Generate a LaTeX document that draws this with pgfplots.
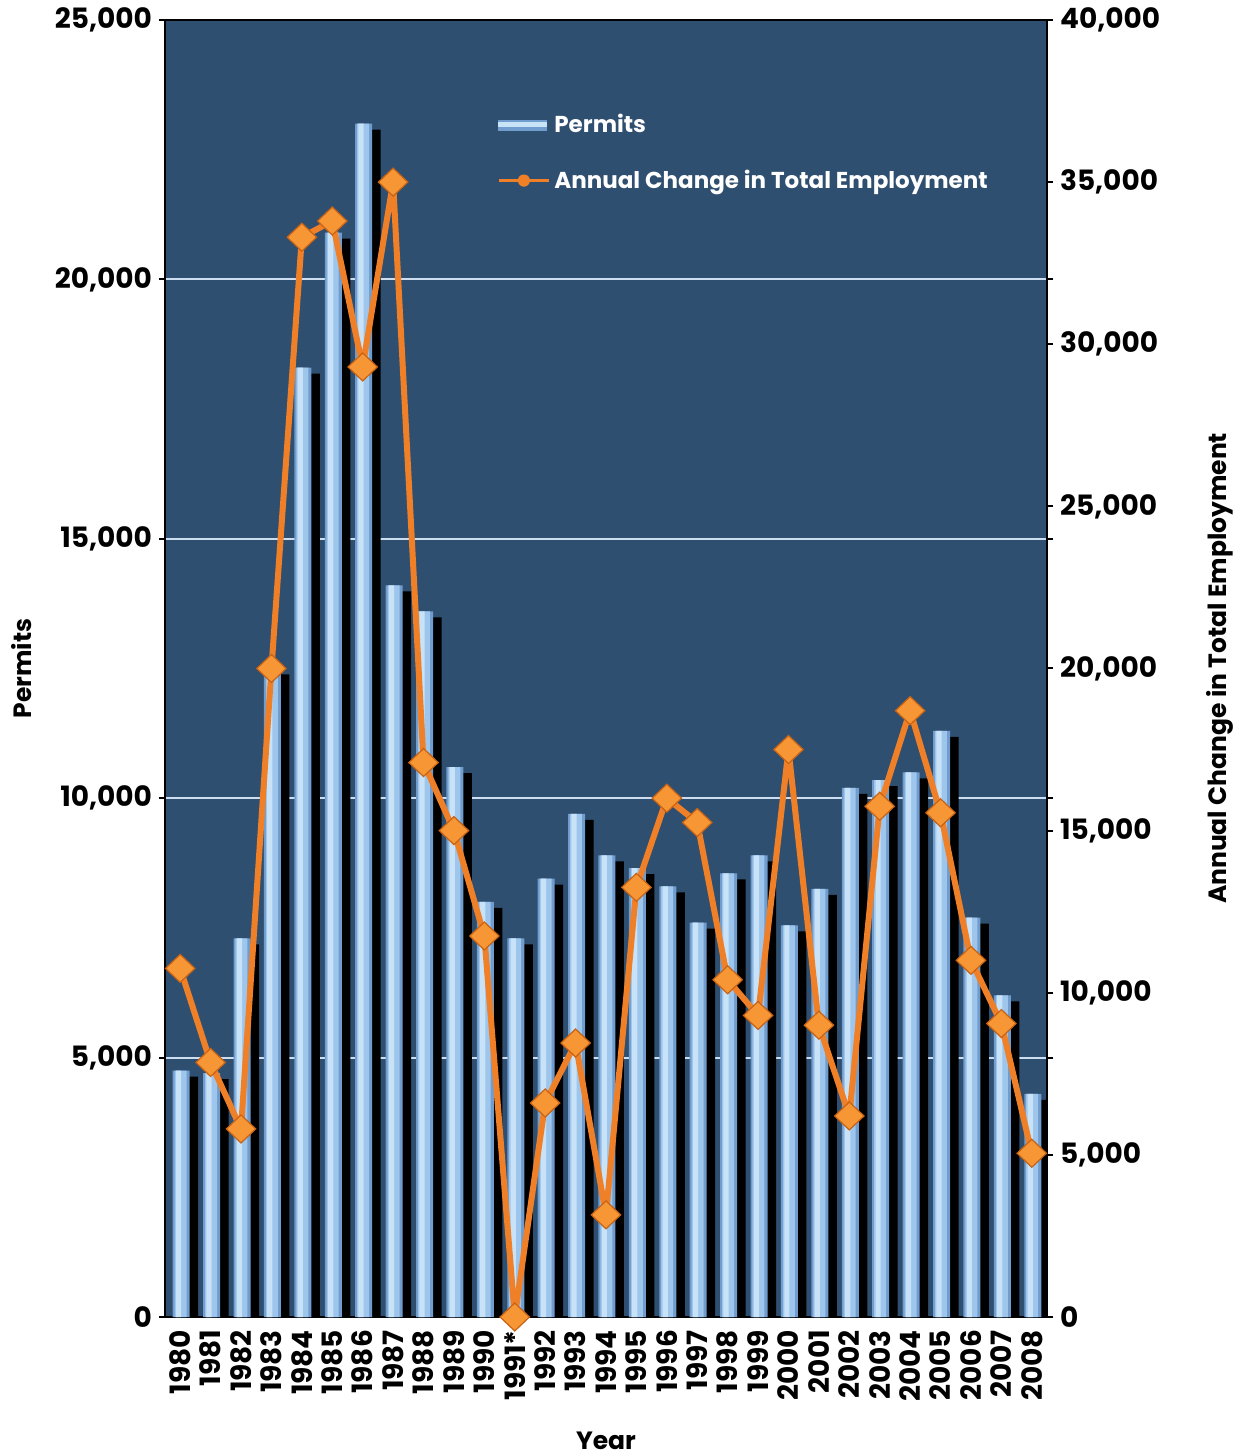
\documentclass[border=0pt]{standalone}
\usepackage{fontspec}
\setmainfont{Poppins}
\usepackage{pgfplots}
\pgfplotsset{compat=1.18}
\usepackage{pgfplotstable}

\definecolor{plotbg}{RGB}{47,79,112}
\definecolor{barlight}{RGB}{200,226,248}
\definecolor{barmid}{RGB}{158,198,236}
\definecolor{baredge}{RGB}{112,156,206}
\definecolor{gridcol}{RGB}{205,222,240}
\definecolor{empline}{RGB}{240,128,40}
\definecolor{empmark}{RGB}{246,150,52}
\definecolor{empedge}{RGB}{200,98,20}

\tikzset{axislabel/.style={font=\bfseries\fontsize{12.5}{14}\selectfont}}

% idx 0 = 1980 ... idx 28 = 2008
\pgfplotstableread{
idx permits employment
0   4750  10750
1   4700   7850
2   7300   5800
3  12500  20000
4  18300  33300
5  20900  33800
6  23000  29300
7  14100  35000
8  13600  17100
9  10600  15000
10  8000  11750
11  7300      0
12  8450   6600
13  9700   8450
14  8900   3150
15  8650  13250
16  8300  16000
17  7600  15250
18  8550  10400
19  8900   9300
20  7550  17500
21  8250   9000
22 10200   6200
23 10350  15750
24 10500  18700
25 11300  15550
26  7700  11000
27  6200   9050
28  4300   5050
}\datatable

\pgfplotsset{
  common/.style={
    scale only axis, width=441pt, height=648.5pt,
    xmin=-0.5, xmax=28.5,
    tick align=outside,
    major tick length=3pt,
    tick style={black, line width=1pt},
    axis line style={black, line width=1pt},
    tick label style={font=\bfseries\fontsize{14}{16}\selectfont},
    /pgf/number format/.cd, 1000 sep={,}, assume math mode=true,
  },
}

\begin{document}
\begin{tikzpicture}
\useasboundingbox (-82.5pt,-69.5pt) rectangle (539.5pt,658.5pt);
\begin{axis}[
  common,
  ymin=0, ymax=25000,
  axis background/.style={fill=plotbg},
  scaled y ticks=false,
  ytick={0,5000,...,25000},
  ymajorgrids,
  major grid style={gridcol, line width=1pt},
  xtick={0,...,28},
  xticklabels={1980,1981,1982,1983,1984,1985,1986,1987,1988,1989,1990,1991*,1992,1993,1994,1995,1996,1997,1998,1999,2000,2001,2002,2003,2004,2005,2006,2007,2008},
  xtick style={draw=none},
  minor xtick={-0.5,0.5,...,28.5},
  minor tick length=4pt,
  minor tick style={black, line width=1pt},
  xticklabel style={rotate=90, anchor=east},
  ylabel={Permits},
  xlabel={Year},
  every axis y label/.style={axislabel, at={(axis description cs:-0.1621,0.5)}, rotate=90, anchor=center},
  every axis x label/.style={axislabel, at={(axis description cs:0.5,-0.0956)}, anchor=center},
]
  % dark shadow behind each bar
  \addplot[ybar, bar width=8.5pt, bar shift=4.75pt, fill=black, draw=none, yshift=-3pt]
    table[x=idx, y=permits] {\datatable};
  % permit bars, built up in layers for a rounded look
  \addplot[ybar, bar width=8.5pt, bar shift=0.5pt, fill=baredge, draw=none]
    table[x=idx, y=permits] {\datatable};
  \addplot[ybar, bar width=6pt, bar shift=0.2pt, fill=barmid, draw=none]
    table[x=idx, y=permits] {\datatable};
  \addplot[ybar, bar width=2.6pt, bar shift=-0.8pt, fill=barlight, draw=none]
    table[x=idx, y=permits] {\datatable};
\end{axis}

\begin{axis}[
  common,
  ymin=0, ymax=40000,
  scaled y ticks=false,
  axis x line=none,
  axis y line*=right,
  ytick={0,5000,...,40000},
  clip=false,
  ylabel={Annual Change in Total Employment},
  every axis y label/.style={axislabel, at={(axis description cs:1.1961,0.5)}, rotate=90, anchor=center},
  legend style={at={(axis description cs:0.3764,0.9306)}, anchor=north west,
    draw=none, fill=none, text=white, inner sep=0pt,
    font=\bfseries\fontsize{11.5}{13}\selectfont,
    row sep=13pt, cells={anchor=west}},
]
  \addlegendimage{legend image code/.code={
    \fill[baredge] (0pt,-2.5pt) rectangle (24pt,2.5pt);
    \fill[barlight] (0pt,-0.5pt) rectangle (24pt,1.2pt);}}
  \addlegendentry{Permits}
  \addplot[empline, line width=3pt, line join=round,
    mark=diamond*, mark size=7pt,
    mark options={fill=empmark, draw=empedge, line width=0.6pt, xscale=1.4, solid, line join=miter},
    legend image code/.code={
      \draw[empline, line width=1.5pt] (0pt,0pt) -- (25pt,0pt);
      \fill[empline] (12.5pt,0pt) circle (1.6pt);}]
    table[x=idx, y=employment] {\datatable};
  \addlegendentry{Annual Change in Total Employment}
\end{axis}
\end{tikzpicture}
\end{document}
